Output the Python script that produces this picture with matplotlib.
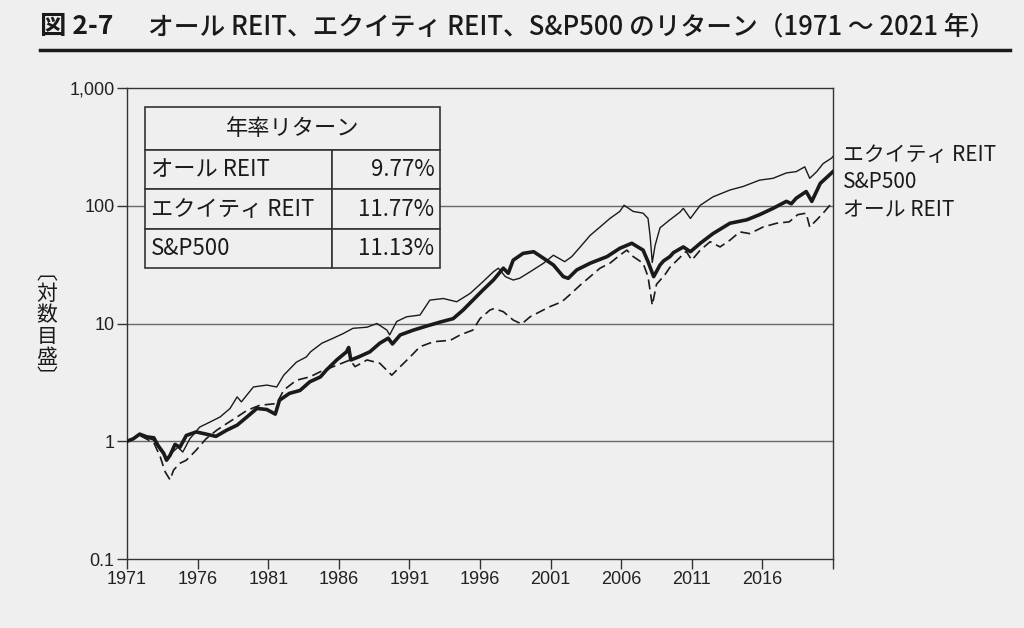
import matplotlib
matplotlib.use("Agg")
import matplotlib.pyplot as plt
from matplotlib.lines import Line2D
import numpy as np

plt.rcParams['font.family'] = ['Noto Sans CJK JP', 'DejaVu Sans']

# S&P500 (thick)
sp_years = [1971.0, 1971.45, 1971.9, 1972.4, 1972.9, 1973.2, 1973.6, 1973.8, 1974.05, 1974.4,
            1974.75, 1975.2, 1975.9, 1976.6, 1977.3, 1978.05, 1978.8, 1979.5, 1980.2, 1980.9,
            1981.5, 1981.8, 1982.5, 1983.25, 1983.95, 1984.7, 1985.1, 1985.85, 1986.55, 1986.7,
            1986.85, 1987.4, 1988.2, 1988.9, 1989.5, 1989.8, 1990.35, 1991.3, 1992.2, 1993.2,
            1994.1, 1994.8, 1995.5, 1996.2, 1996.95, 1997.65, 1998.0, 1998.35, 1999.05, 1999.8,
            2000.5, 2001.2, 2001.9, 2002.25, 2002.85, 2003.8, 2005.0, 2005.9, 2006.75, 2007.55,
            2007.9, 2008.3, 2008.75, 2009.0, 2009.45, 2009.7, 2010.4, 2010.9, 2011.6, 2012.5,
            2013.7, 2014.9, 2015.8, 2016.75, 2017.7, 2018.05, 2018.4, 2019.1, 2019.5, 2020.1,
            2020.9, 2021.0]
sp_vals = [1.0, 1.05, 1.15, 1.09, 1.07, 0.92, 0.79, 0.69, 0.76, 0.94,
           0.89, 1.12, 1.20, 1.15, 1.10, 1.24, 1.37, 1.61, 1.90, 1.86,
           1.70, 2.23, 2.55, 2.70, 3.2, 3.52, 4.0, 4.9, 5.75, 6.25,
           4.9, 5.2, 5.75, 6.8, 7.5, 6.7, 8.0, 8.8, 9.5, 10.3,
           11.0, 13.0, 15.8, 19.2, 23.4, 29.5, 26.7, 34.5, 39.4, 40.7,
           35.8, 31.4, 25.0, 24.2, 28.5, 32.5, 37.0, 43.5, 48.0, 42.0,
           33.5, 25.0, 31.4, 34.0, 37.0, 40.0, 44.7, 40.7, 48.0, 58.0,
           71.0, 76.0, 84.0, 95.0, 109.0, 104.0, 116.0, 132.0, 109.0, 155.0,
           190.0, 195.0]

# Equity REIT (thin)
eq_years = [1971.0, 1971.9, 1972.9, 1973.35, 1973.8, 1974.1, 1974.6, 1974.95, 1975.45, 1976.15,
            1976.9, 1977.6, 1978.3, 1978.8, 1979.1, 1979.95, 1980.9, 1981.6, 1982.1, 1983.0,
            1983.7, 1984.0, 1984.8, 1985.6, 1986.3, 1987.0, 1988.0, 1988.7, 1989.4, 1989.6,
            1990.1, 1990.8, 1991.75, 1992.45, 1993.4, 1994.35, 1995.3, 1996.2, 1996.95, 1997.3,
            1997.8, 1998.35, 1998.8, 1999.55, 2000.5, 2001.2, 2002.0, 2002.5, 2003.1, 2003.8,
            2004.5, 2005.2, 2005.9, 2006.2, 2006.85, 2007.55, 2007.9, 2008.05, 2008.2, 2008.4,
            2008.75, 2009.45, 2010.15, 2010.4, 2010.9, 2011.6, 2012.5, 2013.7, 2014.65, 2015.8,
            2016.75, 2017.7, 2018.4, 2019.0, 2019.35, 2019.85, 2020.3, 2020.9, 2021.0]
eq_vals = [1.0, 1.13, 1.02, 0.84, 0.71, 0.78, 0.89, 0.81, 1.05, 1.32,
           1.46, 1.61, 1.90, 2.38, 2.16, 2.89, 3.0, 2.89, 3.64, 4.7,
           5.2, 5.75, 6.8, 7.5, 8.2, 9.1, 9.3, 10.0, 8.8, 8.0,
           10.4, 11.4, 11.8, 15.8, 16.3, 15.3, 18.0, 22.6, 27.5, 29.5,
           25.0, 23.4, 24.2, 27.5, 32.5, 38.0, 33.5, 37.0, 44.7, 56.0,
           66.0, 78.0, 89.5, 101.0, 89.5, 86.5, 78.0, 55.0, 33.0, 46.0,
           65.0, 76.0, 88.0, 95.0, 78.0, 101.0, 119.0, 136.0, 146.0, 165.0,
           171.0, 190.0, 195.0, 214.0, 171.0, 195.0, 228.0, 254.0, 262.0]

# All REIT (dashed)
all_years = [1971.0, 1971.9, 1972.9, 1973.35, 1973.7, 1974.05, 1974.3, 1974.75, 1975.2, 1975.9,
             1976.6, 1977.35, 1978.05, 1978.8, 1979.5, 1980.4, 1981.6, 1982.1, 1983.0, 1983.95,
             1984.7, 1985.6, 1986.8, 1987.15, 1988.0, 1988.9, 1989.75, 1990.35, 1991.05, 1991.75,
             1992.7, 1993.9, 1994.6, 1995.5, 1996.0, 1996.7, 1997.0, 1997.65, 1998.35, 1998.95,
             1999.55, 2000.25, 2000.95, 2001.8, 2002.35, 2003.1, 2003.8, 2004.5, 2005.2, 2005.9,
             2006.4, 2006.85, 2007.55, 2007.9, 2008.2, 2008.5, 2009.1, 2009.45, 2010.6, 2011.0,
             2011.6, 2012.3, 2013.0, 2013.7, 2014.4, 2015.1, 2016.05, 2017.0, 2017.9, 2018.5,
             2019.1, 2019.35, 2019.85, 2020.3, 2020.9, 2021.0]
all_vals = [1.0, 1.12, 0.97, 0.74, 0.55, 0.47, 0.57, 0.65, 0.69, 0.84,
            1.05, 1.24, 1.41, 1.61, 1.83, 2.02, 2.09, 2.72, 3.3, 3.52,
            3.9, 4.3, 4.9, 4.3, 4.9, 4.6, 3.64, 4.3, 5.2, 6.35,
            7.0, 7.2, 8.0, 8.8, 11.0, 13.0, 13.4, 12.6, 10.7, 9.9,
            11.4, 12.6, 13.9, 15.3, 17.5, 21.2, 25.0, 29.5, 32.5, 38.0,
            42.0, 37.0, 32.5, 25.0, 14.3, 21.5, 26.0, 30.0, 41.0, 34.5,
            42.0, 49.5, 44.7, 51.0, 60.0, 58.0, 66.0, 71.0, 73.0, 84.0,
            86.5, 66.0, 76.0, 86.5, 105.0, 108.0]

x_ticks = [1971, 1976, 1981, 1986, 1991, 1996, 2001, 2006, 2011, 2016]
y_ticks = [0.1, 1, 10, 100, 1000]
y_labels = ["0.1", "1", "10", "100", "1,000"]

table_header = "年率リターン"
table_names = ["オール REIT", "エクイティ REIT", "S&P500"]
table_rates = ["9.77%", "11.77%", "11.13%"]
end_labels = ["エクイティ REIT", "S&P500", "オール REIT"]

bg = "#efefef"
ink = "#1a1a1a"

fig = plt.figure(figsize=(10.24, 6.28), dpi=100, facecolor=bg)
ax = fig.add_axes([127/1024, 1-559/628, 706/1024, 471/628])
ax.set_facecolor(bg)

ax.set_yscale("log")
ax.set_ylim(0.1, 1000)
ax.set_xlim(1971, 2021)

for v in [1, 10, 100]:
    ax.axhline(v, color="#6a6a6a", lw=1.0, zorder=1)

ax.plot(all_years, all_vals, color=ink, lw=1.2, linestyle=(0, (6, 3)), zorder=3)
ax.plot(eq_years, eq_vals, color=ink, lw=1.0, zorder=3)
ax.plot(sp_years, sp_vals, color=ink, lw=2.6, zorder=4)

ax.set_yticks(y_ticks)
ax.set_yticklabels(y_labels)
ax.yaxis.set_minor_locator(matplotlib.ticker.NullLocator())
ax.set_xticks(x_ticks + [2021])
ax.set_xticklabels([str(t) for t in x_ticks] + [""])
ax.tick_params(axis="both", direction="out", length=7, width=1, color="#333333",
               labelsize=13, labelcolor="#222222", pad=2)
for lab in ax.get_xticklabels() + ax.get_yticklabels():
    lab.set_fontfamily("Liberation Sans")
for s in ax.spines.values():
    s.set_color("#333333")
    s.set_linewidth(1.0)

# table
hdr = ax.table(cellText=[[table_header]], bbox=[0.0255, 0.868, 0.4175, 0.092],
               cellLoc="center")
body = ax.table(cellText=[[n, r] for n, r in zip(table_names, table_rates)],
                bbox=[0.0255, 0.618, 0.4175, 0.25], colWidths=[0.634, 0.366])
for t in (hdr, body):
    t.auto_set_font_size(False)
    for (r, c), cell in t.get_celld().items():
        cell.set_facecolor(bg)
        cell.set_edgecolor("#333333")
        cell.set_linewidth(1.2)
        cell.get_text().set_fontsize(16)
        cell.get_text().set_color(ink)
    t.set_zorder(5)
for (r, c), cell in body.get_celld().items():
    if c == 0:
        cell.set_text_props(ha="left")
        cell.PAD = 0.03
    else:
        cell.set_text_props(ha="right")
        cell.PAD = 0.05

# right-hand labels
for lab, yp in zip(end_labels, [155, 182, 209]):
    fig.text(843/1024, 1-yp/628, lab, fontsize=15, color=ink, va="center", ha="left")

# y label (vertical writing)
fig.text(47/1024, 1-326/628, "︹\n対\n数\n目\n盛\n︺", fontsize=15, color=ink,
         ha="center", va="center", linespacing=0.95)

# title
fig.text(40/1024, 1-27/628, "図 2-7", fontsize=19, fontweight="bold", color=ink, va="center")
fig.text(148/1024, 1-27/628, "オール REIT、エクイティ REIT、S&P500 のリターン（1971 ～ 2021 年）",
         fontsize=18.5, fontweight="medium", color=ink, va="center")
fig.add_artist(Line2D([40/1024, 1010/1024], [1-50/628, 1-50/628], color=ink, lw=2.5))

fig.savefig("out.png", dpi=100, facecolor=bg)
